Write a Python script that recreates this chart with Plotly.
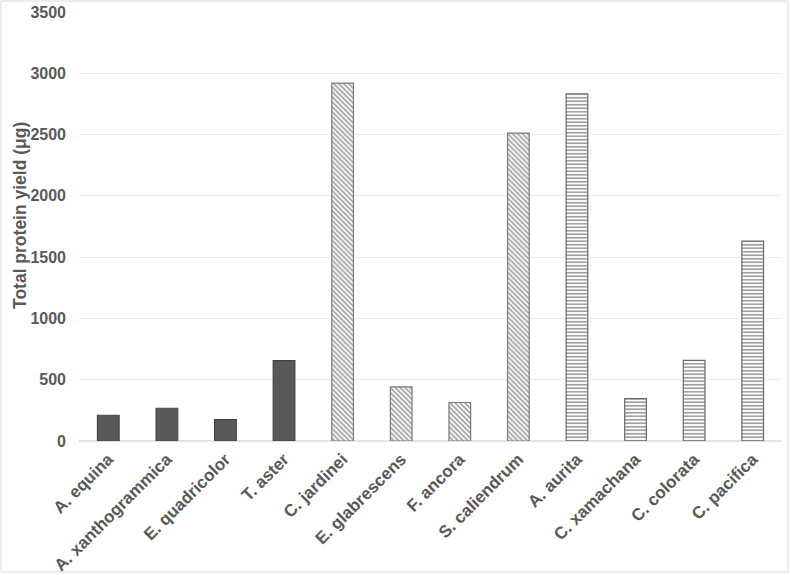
import plotly.graph_objects as go

species = ["A. equina", "A. xanthogrammica", "E. quadricolor", "T. aster",
           "C. jardinei", "E. glabrescens", "F. ancora", "S. caliendrum",
           "A. aurita", "C. xamachana", "C. colorata", "C. pacifica"]
protein_yield = [210, 267, 175, 655, 2920, 441, 314, 2512, 2833, 346, 657, 1630]
groups = ["solid"] * 4 + ["diag"] * 4 + ["horiz"] * 4
y_ticks = [0, 500, 1000, 1500, 2000, 2500, 3000, 3500]

shape_map = {"solid": "", "diag": "\\", "horiz": "-"}
fill_map = {"solid": "#595959", "diag": "white", "horiz": "white"}
line_map = {"solid": "#454545", "diag": "#7a7a7a", "horiz": "#6a6a6a"}

fig = go.Figure(go.Bar(
    x=species,
    y=protein_yield,
    marker=dict(
        color=[fill_map[g] for g in groups],
        line=dict(color=[line_map[g] for g in groups], width=1.2),
        pattern=dict(shape=[shape_map[g] for g in groups],
                     fgcolor="#595959", size=3.5, solidity=0.5,
                     fillmode="overlay"),
    ),
    width=0.37,
))

L, R, T, B = 79, 8, 12, 134
W, H = 790, 575
pw, ph = W - L - R, H - T - B

fig.update_layout(
    width=W, height=H,
    margin=dict(l=L, r=R, t=T, b=B),
    paper_bgcolor="white", plot_bgcolor="white",
    font=dict(family="Liberation Sans, Arial", color="#595959"),
    showlegend=False,
    shapes=[dict(type="rect", xref="paper", yref="paper",
                 x0=(1 - L) / pw, x1=(788 - L) / pw,
                 y0=-(572 - T - ph) / ph, y1=(ph + T - 1) / ph,
                 line=dict(color="#d9d9d9", width=1), layer="below")],
    annotations=[dict(text="Total protein yield (μg)", textangle=-90,
                      xref="paper", yref="paper",
                      x=(20 - L) / pw, y=(T + ph - 216) / ph,
                      xanchor="center", yanchor="middle", showarrow=False,
                      font=dict(size=17.5, weight="bold", color="#595959"))],
)
fig.update_xaxes(
    type="category", categoryorder="array", categoryarray=species,
    tickangle=-45, automargin=False, ticklabelstandoff=4,
    tickfont=dict(size=17, weight="bold", color="#595959"),
    showgrid=False, showline=False, ticks="",
)
fig.update_yaxes(
    range=[0, 3500], tickvals=y_ticks, automargin=False,
    tickfont=dict(size=16, weight="bold", color="#595959"),
    showgrid=True, gridcolor="#ebebeb", gridwidth=1,
    zeroline=True, zerolinecolor="#e3e3e3", zerolinewidth=1.5,
    showline=False, ticks="", ticklabelstandoff=12,
)

fig.write_html("out.html")
